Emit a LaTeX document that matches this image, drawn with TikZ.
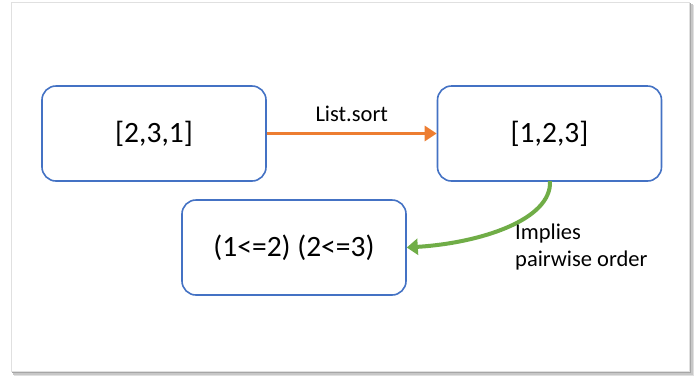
\documentclass[tikz,border=0pt]{standalone}
\usepackage{fontspec}
\setmainfont{Carlito}
\usetikzlibrary{arrows.meta}
\definecolor{boxblue}{HTML}{4472C4}
\definecolor{sortorange}{HTML}{ED7D31}
\definecolor{impgreen}{HTML}{70AD47}
\tikzset{
  listbox/.style={draw=boxblue, line width=1.6pt, rounded corners=14pt, fill=white,
    minimum width=224pt, minimum height=95pt, inner sep=0pt,
    font=\fontsize{29.5}{35}\selectfont},
  edgelabel/.style={font=\fontsize{22.5}{27}\selectfont, inner sep=0pt},
}
\begin{document}
\begin{tikzpicture}[x=1pt, y=-1pt]
  \useasboundingbox (0,0) rectangle (694,376);
  % card shadow, soft edge built from layered strips
  \fill[black!12] (14,5) rectangle (694,376);
  \fill[black!22] (13,4) rectangle (692.5,374.5);
  \fill[black!35] (12,3) rectangle (691,373);
  % card
  \fill[white, draw=black!12, line width=0.8pt] (11,2) rectangle (689,371);

  \node[listbox] (src) at (154,133.5) {[2,3,1]};
  \node[listbox] (dst) at (549.5,133.5) {[1,2,3]};
  \node[listbox] (pairs) at (294,247.5) {(1<=2) (2<=3)};

  \draw[sortorange, line width=3pt, -{Triangle[length=12pt, width=15pt]}]
    (src.east) -- node[edgelabel, above=10pt, text=black] {List.sort} (dst.west);

  \coordinate (gstart) at (550,181);
  \draw[impgreen, line width=4pt, -{Triangle[length=11pt, width=16pt]}]
    (gstart) .. controls (552,220) and (480,243) .. (pairs.east);

  \node[edgelabel, anchor=north west, align=left] (imp) at (515,224)
    {Implies\\pairwise order};
\end{tikzpicture}
\end{document}
